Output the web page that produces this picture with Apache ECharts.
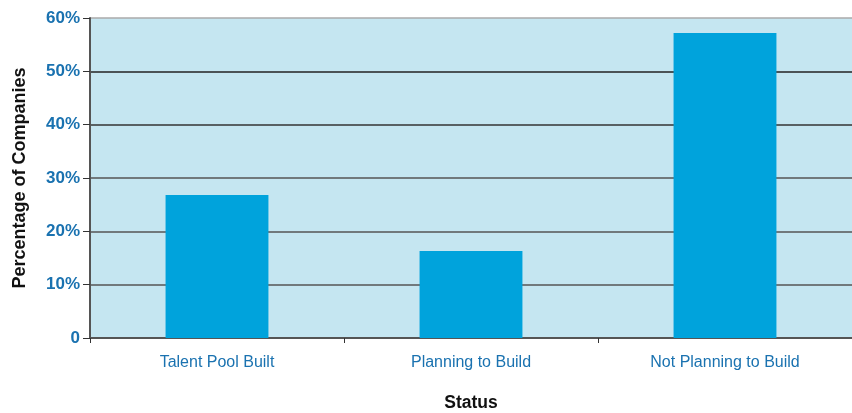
<!DOCTYPE html>
<html><head><meta charset="utf-8">
<script src="https://cdn.jsdelivr.net/npm/echarts@6/dist/echarts.min.js"></script>
<style>html,body{margin:0;padding:0;background:#fff}#c{width:852px;height:413px}</style>
</head><body><div id="c"></div>
<script>
const categories = ['Talent Pool Built', 'Planning to Build', 'Not Planning to Build'];
const values = [26.8, 16.3, 57.2];
const yTicks = [0, 10, 20, 30, 40, 50, 60];

const chart = echarts.init(document.getElementById('c'));
chart.setOption({
  animation: false,
  grid: { left: 90, right: 0, top: 18, bottom: 75, containLabel: false, outerBoundsMode: 'none',
          show: true, backgroundColor: '#c5e6f1', borderWidth: 0 },
  xAxis: {
    type: 'category', data: categories,
    name: 'Status', nameLocation: 'middle', nameGap: 56,
    nameTextStyle: { color: '#111', fontWeight: 'bold', fontSize: 17.5, fontFamily: 'Liberation Sans' },
    axisLine: { lineStyle: { color: '#555', width: 2 } },
    axisTick: { show: true, length: 5, lineStyle: { color: '#333' } },
    axisLabel: { color: '#1a72b0', fontSize: 16, fontFamily: 'Liberation Sans', margin: 17 }
  },
  yAxis: {
    type: 'value', min: 0, max: 60, interval: 10,
    name: 'Percentage of Companies', nameLocation: 'middle', nameGap: 61,
    nameTextStyle: { color: '#111', fontWeight: 'bold', fontSize: 18, fontFamily: 'Liberation Sans' },
    axisLine: { show: true, lineStyle: { color: '#555', width: 2 } },
    axisTick: { show: true, length: 7, lineStyle: { color: '#333' } },
    axisLabel: { color: '#1a72b0', fontSize: 17, fontWeight: 'bold', fontFamily: 'Liberation Sans', margin: 10,
      formatter: v => yTicks.includes(v) ? (v === 0 ? '0' : v + '%') : '' },
    splitLine: { show: true, lineStyle: { color: ['#555', '#555', '#555', '#555', '#333', '#222', '#aaa'], width: 1.5 } }
  },
  series: [{
    type: 'bar', data: values, barWidth: '40.5%',
    itemStyle: { color: '#00a3dc' }
  }]
});
</script></body></html>
